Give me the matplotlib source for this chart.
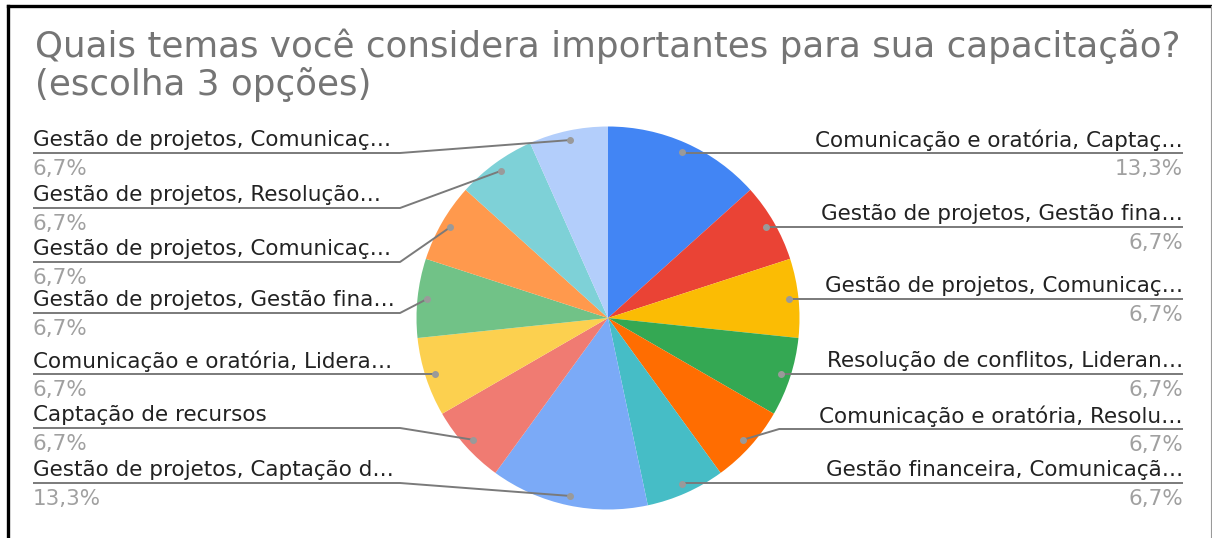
import matplotlib
matplotlib.use("Agg")
import matplotlib.pyplot as plt
import numpy as np

# ---- data ----
title_lines = ["Quais temas você considera importantes para sua capacitação?",
               "(escolha 3 opções)"]
categories = [
    "Comunicação e oratória, Captaç…",
    "Gestão de projetos, Gestão fina…",
    "Gestão de projetos, Comunicaç…",
    "Resolução de conflitos, Lideran…",
    "Comunicação e oratória, Resolu…",
    "Gestão financeira, Comunicaçã…",
    "Gestão de projetos, Captação d…",
    "Captação de recursos",
    "Comunicação e oratória, Lidera…",
    "Gestão de projetos, Gestão fina…",
    "Gestão de projetos, Comunicaç…",
    "Gestão de projetos, Resolução…",
    "Gestão de projetos, Comunicaç…",
]
responses = [2, 1, 1, 1, 1, 1, 2, 1, 1, 1, 1, 1, 1]
colors = ["#4285F4", "#EA4335", "#FBBC04", "#34A853", "#FF6D01", "#46BDC6",
          "#7BAAF7", "#F07B72", "#FCD04F", "#71C287", "#FF994D", "#7ED1D7",
          "#B3CEFB"]

# ---- layout (pixels, origin top-left) ----
W, H = 1212, 538
CX, CY, R = 608, 318, 191.5
right_slices = [0, 1, 2, 3, 4, 5]
right_line_y = [153, 227, 299, 374, 429, 483]
left_slices = [12, 11, 10, 9, 8, 7, 6]
left_line_y = [153, 208, 262, 313, 374, 428, 483]
RIGHT_EDGE, LEFT_EDGE = 1183, 33
LEFT_BEND = 400
FONT = "DejaVu Sans"
LABEL_SIZE = 15.5
TITLE_SIZE = 25.7

fig = plt.figure(figsize=(W / 100, H / 100), dpi=100)
ax = fig.add_axes([0, 0, 1, 1])


def Y(py):
    return H - py


wedges, _ = ax.pie(responses, colors=colors, startangle=90, counterclock=False,
                   center=(CX, Y(CY)), radius=R, frame=True,
                   wedgeprops=dict(linewidth=0))
ax.set_xlim(0, W)
ax.set_ylim(0, H)
ax.set_aspect("equal")
ax.axis("off")

total = sum(responses)
pct = [f"{v / total * 100:.1f}".replace(".", ",") + "%" for v in responses]

line_kw = dict(color="#7a7a7a", lw=1.4, solid_capstyle="butt", zorder=3)
text_kw = dict(fontsize=LABEL_SIZE, family=FONT, va="center")


def anchor(i):
    w = wedges[i]
    th = np.deg2rad((w.theta1 + w.theta2) / 2)
    return CX + 0.95 * R * np.cos(th), Y(CY) + 0.95 * R * np.sin(th)


for i, ly in zip(right_slices, right_line_y):
    ax_, ay_ = anchor(i)
    yl = Y(ly)
    if abs(ay_ - yl) > 4:
        bx = ax_ + 36
        ax.plot([ax_, bx, RIGHT_EDGE], [ay_, yl, yl], **line_kw)
    else:
        ax.plot([ax_, RIGHT_EDGE], [yl, yl], **line_kw)
    ax.plot(ax_, ay_, "o", ms=4, color="#9a9a9a", zorder=4)
    ax.text(RIGHT_EDGE, yl + 13, categories[i], ha="right", color="#222222", **text_kw)
    ax.text(RIGHT_EDGE, yl - 16, pct[i], ha="right", color="#a0a0a0", **text_kw)

for i, ly in zip(left_slices, left_line_y):
    ax_, ay_ = anchor(i)
    yl = Y(ly)
    if abs(ay_ - yl) > 4:
        ax.plot([LEFT_EDGE, LEFT_BEND, ax_], [yl, yl, ay_], **line_kw)
    else:
        ax.plot([LEFT_EDGE, ax_], [yl, yl], **line_kw)
    ax.plot(ax_, ay_, "o", ms=4, color="#9a9a9a", zorder=4)
    ax.text(LEFT_EDGE, yl + 13, categories[i], ha="left", color="#222222", **text_kw)
    ax.text(LEFT_EDGE, yl - 16, pct[i], ha="left", color="#a0a0a0", **text_kw)

# title
ax.text(35, Y(57), title_lines[0], ha="left", va="baseline", fontsize=TITLE_SIZE,
        color="#757575", family=FONT)
ax.text(35, Y(95), title_lines[1], ha="left", va="baseline", fontsize=TITLE_SIZE,
        color="#757575", family=FONT)

# frame around the chart
ax.plot([7.5, 7.5], [0, Y(6)], color="black", lw=2.4, solid_capstyle="projecting")
ax.plot([7.5, W], [Y(6), Y(6)], color="black", lw=2.4)
ax.plot([1210.5, 1210.5], [0, Y(6)], color="#9a9a9a", lw=0.8)

fig.savefig("out.png", dpi=100)
